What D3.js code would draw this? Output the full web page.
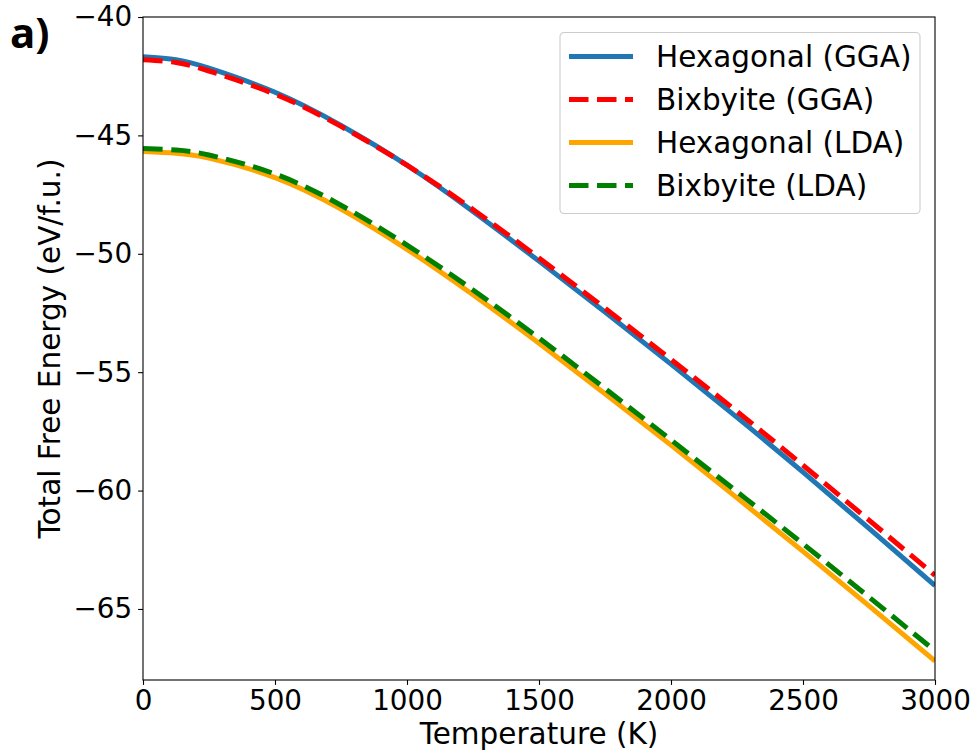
<!DOCTYPE html>
<html>
<head>
<meta charset="utf-8">
<script src="https://cdn.jsdelivr.net/npm/d3@7"></script>
<style>
  body { margin: 0; background: #fff; }
  text { font-family: "DejaVu Sans", sans-serif; }
</style>
</head>
<body>
<div id="chart"></div>
<script>
// Temperature grid (K) and free energies (eV/f.u.)
const temps = [0, 125, 250, 500, 750, 1000, 1250, 1500, 1750, 2000, 2250, 2500, 2750, 3000];
const hexGGA = [-41.68, -41.8, -42.16, -43.18, -44.58, -46.26, -48.21, -50.31, -52.46, -54.66, -56.91, -59.22, -61.6, -64.01];
const bixGGA = [-41.81, -41.92, -42.28, -43.26, -44.62, -46.26, -48.13, -50.18, -52.3, -54.46, -56.66, -58.93, -61.25, -63.58];
const hexLDA = [-45.68, -45.75, -45.96, -46.78, -48.11, -49.81, -51.73, -53.78, -55.91, -58.08, -60.31, -62.57, -64.87, -67.2];
const bixLDA = [-45.55, -45.62, -45.83, -46.63, -47.95, -49.63, -51.53, -53.56, -55.69, -57.86, -60.05, -62.25, -64.5, -66.77];

const xTicks = [0, 500, 1000, 1500, 2000, 2500, 3000];
const yTicks = [-40, -45, -50, -55, -60, -65];

const seriesNames = ["Hexagonal (GGA)", "Bixbyite (GGA)", "Hexagonal (LDA)", "Bixbyite (LDA)"];
const seriesValues = [hexGGA, bixGGA, hexLDA, bixLDA];
const seriesColors = ["#1f77b4", "#ff0000", "#ffa500", "#008000"];
const seriesDashed = [false, true, false, true];

// Layout
const width = 977, height = 753;
const margin = { top: 17, right: 42, bottom: 73, left: 143 };
const innerW = width - margin.left - margin.right;
const innerH = height - margin.top - margin.bottom;
const tickFont = 27.8;
const labelFont = 29.5;

const svg = d3.select("#chart").append("svg")
    .attr("width", width)
    .attr("height", height);

svg.append("rect")
    .attr("width", width)
    .attr("height", height)
    .attr("fill", "#fff");

const g = svg.append("g")
    .attr("transform", `translate(${margin.left},${margin.top})`);

const x = d3.scaleLinear().domain([0, 3000]).range([0, innerW]);
const y = d3.scaleLinear().domain([-68, -40]).range([innerH, 0]);

// Clip the curves to the axes box
svg.append("defs").append("clipPath")
    .attr("id", "plotClip")
    .append("rect")
    .attr("width", innerW)
    .attr("height", innerH);

const line = d3.line()
    .x(d => x(d[0]))
    .y(d => y(d[1]))
    .curve(d3.curveNatural);

const plot = g.append("g").attr("clip-path", "url(#plotClip)");

seriesValues.forEach((vals, i) => {
    plot.append("path")
        .datum(temps.map((t, k) => [t, vals[k]]))
        .attr("d", line)
        .attr("fill", "none")
        .attr("stroke", seriesColors[i])
        .attr("stroke-width", 5)
        .attr("stroke-dasharray", seriesDashed[i] ? "19.5,8.5" : null);
});

// Axes
const xAxis = g.append("g")
    .attr("transform", `translate(0,${innerH})`)
    .call(d3.axisBottom(x).tickValues(xTicks).tickSize(4.9).tickPadding(4.9).tickFormat(d3.format("d")));

const yAxis = g.append("g")
    .call(d3.axisLeft(y).tickValues(yTicks).tickSize(4.9).tickPadding(6).tickFormat(d => d < 0 ? "\u2212" + Math.abs(d) : d));

[xAxis, yAxis].forEach(ax => {
    ax.select(".domain").remove();
    ax.selectAll(".tick line").attr("stroke", "#000").attr("stroke-width", 1.1);
    ax.selectAll(".tick text")
        .attr("fill", "#000")
        .style("font-size", tickFont + "px")
        .style("font-family", "DejaVu Sans");
});

// Frame
g.append("rect")
    .attr("width", innerW)
    .attr("height", innerH)
    .attr("fill", "none")
    .attr("stroke", "#000")
    .attr("stroke-width", 1.1);

// Axis labels
svg.append("text")
    .attr("x", margin.left + innerW / 2)
    .attr("y", 744)
    .attr("text-anchor", "middle")
    .style("font-size", labelFont + "px")
    .text("Temperature (K)");

svg.append("text")
    .attr("transform", `translate(60,${margin.top + innerH / 2}) rotate(-90)`)
    .attr("text-anchor", "middle")
    .style("font-size", labelFont + "px")
    .text("Total Free Energy (eV/f.u.)");

// Panel tag
svg.append("text")
    .attr("x", 10)
    .attr("y", 48)
    .style("font-family", "Open Sans, sans-serif")
    .style("font-weight", "bold")
    .style("font-size", "42px")
    .text("a)");

// Legend
const legend = svg.append("g").attr("transform", "translate(560,32.5)");

legend.append("rect")
    .attr("width", 360)
    .attr("height", 181)
    .attr("rx", 4)
    .attr("fill", "#fff")
    .attr("fill-opacity", 0.8)
    .attr("stroke", "#cccccc")
    .attr("stroke-width", 1.1);

seriesNames.forEach((name, i) => {
    const row = legend.append("g")
        .attr("transform", `translate(0,${24 + i * 43})`);
    row.append("line")
        .attr("x1", 9)
        .attr("x2", 73)
        .attr("stroke", seriesColors[i])
        .attr("stroke-width", 5)
        .attr("stroke-dasharray", seriesDashed[i] ? "19.5,8.5" : null);
    row.append("text")
        .attr("x", 96)
        .attr("y", 10.5)
        .style("font-size", labelFont + "px")
        .text(name);
});
</script>
</body>
</html>
